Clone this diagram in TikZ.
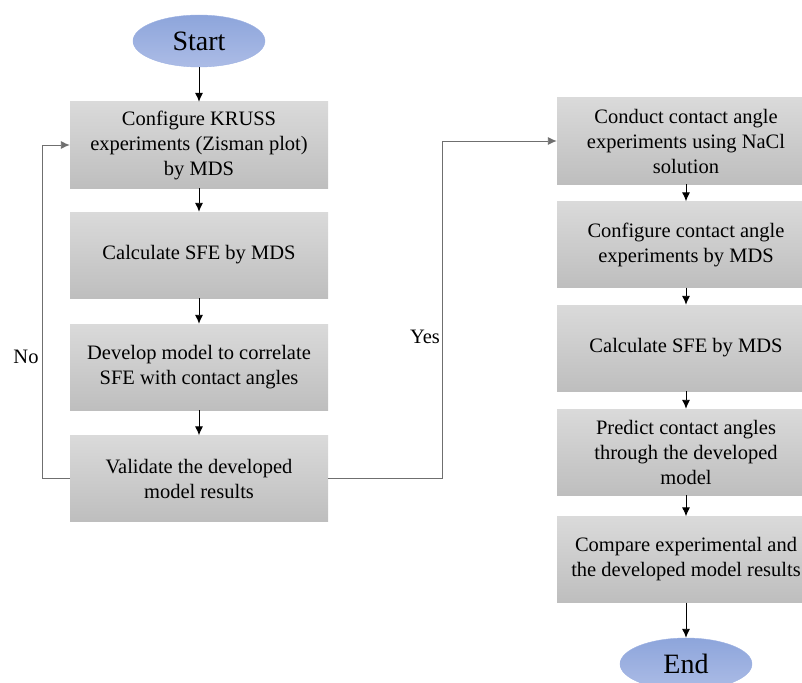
\documentclass[tikz,border=0pt]{standalone}
\usepackage{fontspec}
\setmainfont{Liberation Serif}
\usetikzlibrary{shapes,arrows.meta,positioning}
\definecolor{boxtop}{HTML}{DADADA}
\definecolor{boxbot}{HTML}{BEBEBE}
\definecolor{ovaltop}{HTML}{8DA5DB}
\definecolor{ovalbot}{HTML}{ACBCE6}
\definecolor{ovalline}{HTML}{9DB1E2}
\definecolor{loopline}{HTML}{6F6F6F}
\tikzstyle{process} = [rectangle, minimum width=258pt, minimum height=86pt, inner sep=0pt, top color=boxtop, bottom color=boxbot, draw=none, align=center, font=\fontsize{20.5}{25}\selectfont]
\tikzstyle{startstop} = [ellipse, minimum width=132pt, minimum height=52pt, inner sep=0pt, top color=ovaltop, bottom color=ovalbot, draw=ovalline, font=\fontsize{28}{30}\selectfont]
\tikzstyle{arrow} = [line width=0.9pt, -{Latex[length=9pt,width=8pt]}]
\tikzstyle{branch} = [line width=0.9pt, -{Latex[length=9pt,width=8pt]}, draw=loopline]
\tikzstyle{label} = [font=\fontsize{20.5}{24}\selectfont]

\begin{document}
\begin{tikzpicture}[x=1pt,y=-1pt]
\useasboundingbox (0,0) rectangle (802,682);

% left column
\node[startstop] (start) at (199,41) {Start};
\node[process] (kruss) at (199,145) {Configure KRUSS\\experiments (Zisman plot)\\by MDS};
\node[process] (sfeone) at (199,255) {Calculate SFE by MDS};
\node[process] (model) at (199,367) {Develop model to correlate\\SFE with contact angles};
\node[process] (valid) at (199,478.5) {Validate the developed\\model results};

% right column
\node[process] (nacl) at (686,141) {Conduct contact angle\\experiments using NaCl\\solution};
\node[process] (config) at (686,244.5) {Configure contact angle\\experiments by MDS};
\node[process] (sfetwo) at (686,348) {Calculate SFE by MDS};
\node[process] (predict) at (686,452) {Predict contact angles\\through the developed\\model};
\node[process] (compare) at (686,559.5) {Compare experimental and\\the developed model results};
\node[startstop] (end) at (686,664) {End};

\draw[arrow] (start) -- (kruss);
\draw[arrow] (kruss) -- (sfeone);
\draw[arrow] (sfeone) -- (model);
\draw[arrow] (model) -- (valid);

\draw[arrow] (nacl) -- (config);
\draw[arrow] (config) -- (sfetwo);
\draw[arrow] (sfetwo) -- (predict);
\draw[arrow] (predict) -- (compare);
\draw[arrow] (compare) -- (end);

% decision branches
\draw[branch] (valid.west) -- ++(-27,0) |- (kruss.west);
\node[label] (no) at (26,357) {No};
\draw[branch] (valid.east) -- ++(114,0) |- (nacl.west);
\node[label] (yes) at (425,337) {Yes};

\end{tikzpicture}
\end{document}
